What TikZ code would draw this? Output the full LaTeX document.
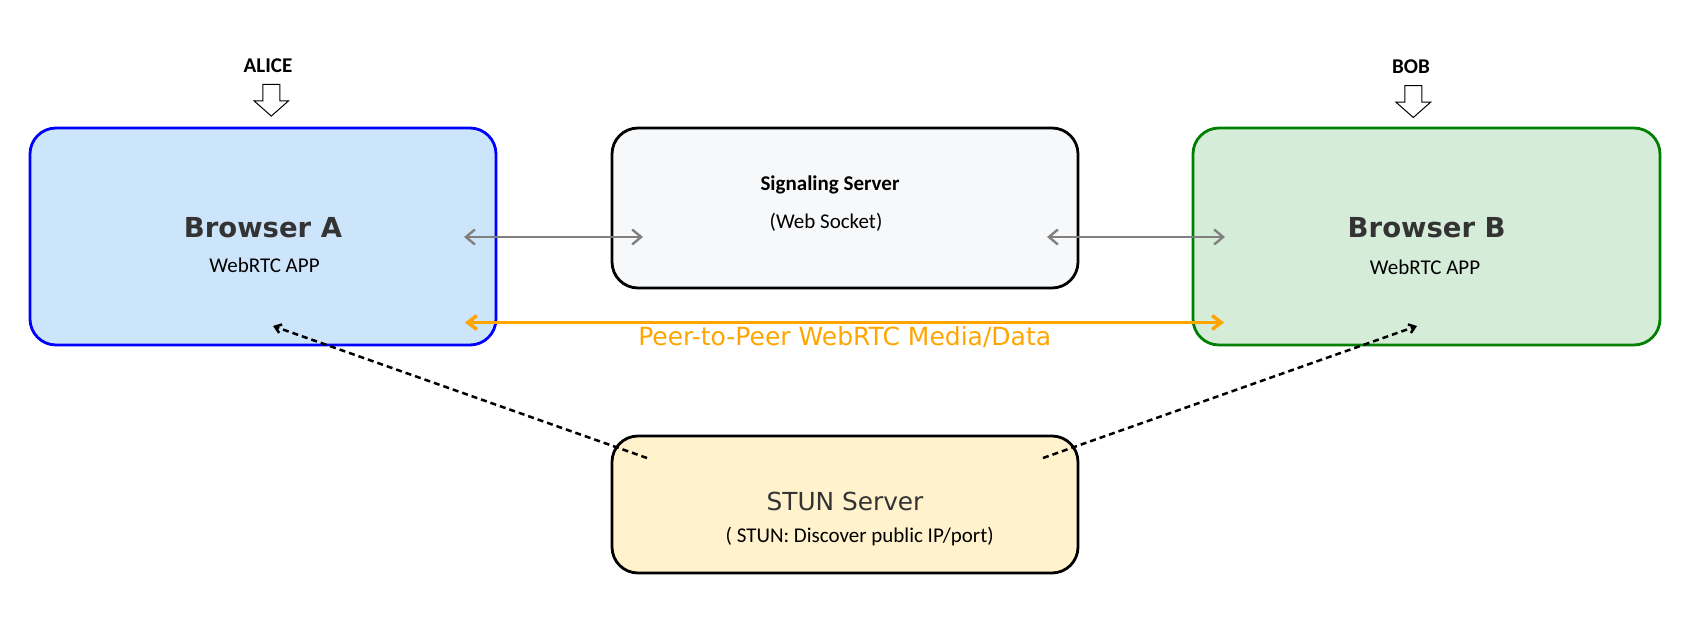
\documentclass[tikz,border=0pt]{standalone}
\usepackage{fontspec}
\setmainfont{Carlito}
\newfontfamily\dejavu{DejaVu Sans}
\usetikzlibrary{arrows.meta}
\definecolor{blueFill}{RGB}{204,229,251}
\definecolor{greenFill}{RGB}{213,236,217}
\definecolor{sigFill}{RGB}{247,248,250}
\definecolor{stunFill}{RGB}{255,242,204}
\definecolor{darkText}{RGB}{51,51,51}
\definecolor{peerOrange}{RGB}{255,165,0}
\definecolor{linkGray}{RGB}{128,128,128}
\definecolor{boxGreen}{RGB}{0,128,0}
\newcommand\blockdown[3]{% center x, top y, name
  \draw[line width=1pt, fill=white] (#1-8.5,#2) -- (#1+8.5,#2) -- (#1+8.5,#2+16.5) -- (#1+17.3,#2+16.5) -- (#1,#2+31.8) -- (#1-17.3,#2+16.5) -- (#1-8.5,#2+16.5) -- cycle;
  \coordinate (#3) at (#1,#2+31.8);}
\begin{document}
\begin{tikzpicture}[x=1pt,y=-1pt,
  box/.style={draw, rounded corners=26pt, line width=2.8pt, inner sep=0pt},
  lbl/.style={anchor=base, inner sep=0pt, font=\fontsize{21}{24}\selectfont},
  blbl/.style={lbl, font=\fontsize{21}{24}\selectfont\bfseries},
  bigname/.style={anchor=base, inner sep=0pt, text=darkText, font=\dejavu\fontsize{27.5}{30}\selectfont\bfseries},
  sig/.style={linkGray, line width=2.4pt, {Straight Barb[length=9pt,width=15pt]}-{Straight Barb[length=9pt,width=15pt]}},
  peer/.style={peerOrange, line width=3.5pt, {Straight Barb[length=9pt,width=14pt]}-{Straight Barb[length=9pt,width=14pt]}},
  stunlink/.style={black, line width=2.5pt, dash pattern=on 6pt off 4pt, -{Straight Barb[length=6pt,width=9pt]}}
]
\useasboundingbox (0,0) rectangle (1705,631);
% boxes
\node[box, draw=blue, fill=blueFill, minimum width=466pt, minimum height=217pt] (A) at (263,236.5) {};
\node[box, draw=black, fill=sigFill, minimum width=466pt, minimum height=160pt] (S) at (845,208) {};
\node[box, draw=boxGreen, fill=greenFill, minimum width=467pt, minimum height=217pt] (B) at (1426.5,236.5) {};
\node[box, draw=black, fill=stunFill, minimum width=466pt, minimum height=137pt] (T) at (845,504.5) {};
% labels
\node[blbl] (alice) at (268,73) {ALICE};
\node[blbl] (bob) at (1411,74) {BOB};
\blockdown{271.3}{84.3}{aliceTip}
\blockdown{1413.3}{85.7}{bobTip}
\node[bigname] (Aname) at (263,237) {Browser A};
\node[lbl] (Aapp) at (264.5,272) {WebRTC APP};
\node[bigname] (Bname) at (1426.7,237) {Browser B};
\node[lbl] (Bapp) at (1425,274) {WebRTC APP};
\node[blbl] (Sname) at (830,190.5) {Signaling Server};
\node[lbl] (Ssub) at (826,229) {(Web Socket)};
\node[anchor=base, inner sep=0pt, text=darkText, font=\dejavu\fontsize{24.8}{28}\selectfont] (Tname) at (845,510.5) {STUN Server};
\node[lbl] (Tsub) at (859.7,542.5) {( STUN: Discover public IP/port)};
\node[anchor=base, inner sep=0pt, text=peerOrange, font=\dejavu\fontsize{25}{28}\selectfont] (peerlbl) at (844.7,345) {Peer-to-Peer WebRTC Media/Data};
% connector end points
\coordinate (aSig) at (464,237);
\coordinate (sSigL) at (643,237);
\coordinate (sSigR) at (1047,237);
\coordinate (bSig) at (1225,237);
\coordinate (aPeer) at (465,322.5);
\coordinate (bPeer) at (1224,322.5);
\coordinate (aStun) at (273,326);
\coordinate (bStun) at (1417,326);
\coordinate (tL) at (647,458);
\coordinate (tR) at (1043,458);
% connectors
\draw[sig] (aSig) -- (sSigL);
\draw[sig] (sSigR) -- (bSig);
\draw[peer] (aPeer) -- (bPeer);
\draw[stunlink] (tL) -- (aStun);
\draw[stunlink] (tR) -- (bStun);
\end{tikzpicture}
\end{document}
